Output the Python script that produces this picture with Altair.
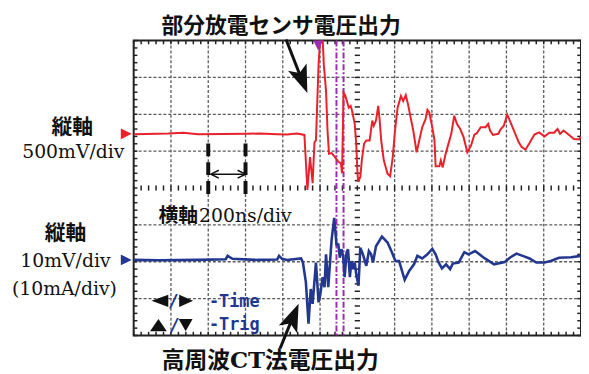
import altair as alt
import pandas as pd
import numpy as np

# ---- data (time in divisions, 200 ns/div; amplitude in divisions) ----
red_t = [0, 0.93, 1.33, 1.73, 3.05, 3.40, 3.85, 4.11, 4.38, 4.58,
         4.66, 4.73, 4.80, 4.85, 4.89, 4.96, 5.02, 5.06, 5.10, 5.16,
         5.20, 5.24, 5.31, 5.40, 5.49, 5.56, 5.59, 5.63, 5.68, 5.73,
         5.77, 5.82, 5.86, 5.93, 5.97, 6.00, 6.02, 6.08, 6.12, 6.18,
         6.24, 6.33, 6.40, 6.44, 6.50, 6.56, 6.60, 6.64, 6.71, 6.81,
         6.88, 6.95, 7.01, 7.08, 7.17, 7.23, 7.30, 7.36, 7.43, 7.50,
         7.59, 7.65, 7.74, 7.83, 7.88, 7.93, 8.01, 8.07, 8.10, 8.20,
         8.24, 8.29, 8.36, 8.43, 8.52, 8.60, 8.67, 8.76, 8.85, 8.95,
         9.05, 9.14, 9.20, 9.31, 9.44, 9.51, 9.56, 9.64, 9.78, 9.85,
         9.93, 10.02, 10.09, 10.22, 10.33, 10.41, 10.51, 10.62, 10.75, 10.88,
         11.02, 11.15, 11.28, 11.37, 11.44, 11.53, 11.64, 11.81, 11.95, 12.0]
red_v = [1.46, 1.48, 1.50, 1.46, 1.47, 1.48, 1.46, 1.45, 1.48, 1.44,
         -0.05, 0.84, 0.13, 1.24, 1.29, 3.36, 4.3, 4.3, 3.36, 2.63,
         1.56, 0.93, 0.95, 0.84, 0.71, 0.67, 0.40, 2.59, 2.50, 2.32,
         2.18, 2.23, 2.09, 1.74, 1.20, 0.48, 0.17, 0.30, 0.75, 1.20,
         1.29, 1.29, 1.83, 1.69, 1.83, 2.23, 1.83, 1.29, 0.75, 0.39,
         0.32, 0.84, 1.56, 2.18, 2.50, 2.36, 2.52, 2.27, 1.91, 1.56,
         0.97, 1.24, 1.65, 1.87, 2.12, 2.05, 1.65, 1.29, 0.59, 0.59,
         0.75, 0.56, 0.89, 1.15, 1.47, 1.96, 1.74, 1.60, 1.38, 0.97,
         1.15, 1.45, 1.48, 1.65, 1.65, 1.74, 1.56, 1.44, 1.47, 1.60,
         1.69, 1.99, 1.83, 1.51, 1.24, 1.11, 1.04, 1.22, 1.45, 1.51,
         1.40, 1.50, 1.50, 1.60, 1.47, 1.56, 1.47, 1.33, 1.32, 1.40]

blue_t = [0, 0.66, 1.73, 2.47, 2.52, 2.65, 3.32, 3.85, 3.90, 3.98,
          4.11, 4.49, 4.54, 4.62, 4.69, 4.75, 4.80, 4.89, 4.96, 5.00,
          5.07, 5.12, 5.16, 5.22, 5.31, 5.38, 5.44, 5.49, 5.53, 5.57,
          5.62, 5.66, 5.71, 5.75, 5.80, 5.84, 5.89, 5.93, 5.97, 6.03,
          6.08, 6.15, 6.24, 6.31, 6.37, 6.42, 6.50, 6.66, 6.81, 6.93,
          7.02, 7.12, 7.27, 7.39, 7.52, 7.61, 7.74, 7.88, 8.01, 8.10,
          8.18, 8.27, 8.38, 8.49, 8.56, 8.72, 8.87, 8.98, 9.16, 9.42,
          9.67, 9.95, 10.09, 10.27, 10.49, 10.62, 10.80, 11.02, 11.19, 11.41,
          11.73, 12.0]
blue_v = [-1.95, -1.96, -1.95, -1.93, -1.84, -1.92, -1.95, -1.94, -1.84, -1.92,
          -1.95, -1.91, -2.02, -2.56, -3.68, -2.74, -3.14, -2.02, -3.10, -2.92,
          -2.42, -2.69, -1.80, -2.69, -1.40, -0.81, -1.53, -1.53, -1.89, -1.66,
          -1.84, -2.42, -1.75, -1.66, -2.42, -1.98, -2.20, -2.02, -2.34, -2.65,
          -1.62, -1.80, -2.11, -1.71, -1.80, -2.02, -1.58, -1.32, -1.48, -1.75,
          -1.98, -1.98, -2.49, -2.25, -2.07, -1.84, -1.91, -1.80, -1.65, -1.80,
          -2.02, -2.18, -2.07, -2.20, -2.05, -2.02, -1.74, -1.80, -1.71, -1.91,
          -2.07, -2.01, -1.89, -1.78, -1.86, -1.91, -2.02, -2.02, -1.98, -1.89,
          -1.88, -1.84]

red_ref = [1.47]
blue_ref = [-1.95]
cursor_t = [5.44, 5.63]
trig_t = [4.95]
scale_bar_t = [2.0, 3.0]

RED = "#e8212b"
BLUE = "#22378f"
PURPLE = "#9a2db0"
SERIF = "'DejaVu Serif', 'Noto Sans CJK JP'"
CJK = "'Noto Sans CJK JP'"
OX, OY = 135, 39  # plot origin on the page

xs = alt.Scale(domain=[0, 12], nice=False, zero=False)
ys = alt.Scale(domain=[-4, 4], nice=False, zero=False)
one = pd.DataFrame({"a": [0]})

# ---- graticule ----
g = []
for k in range(1, 12):
    if k != 6:
        g.append(dict(x=k, x2=k, y=-4, y2=4))
for k in range(-3, 4):
    if k != 0:
        g.append(dict(x=0, x2=12, y=k, y2=k))
grid_df = pd.DataFrame(g)

tk = []
for x in np.round(np.arange(0, 12.001, 0.2), 2):
    tk.append(dict(x=x, x2=x, y=4, y2=3.9))
    tk.append(dict(x=x, x2=x, y=-4, y2=-3.9))
    tk.append(dict(x=x, x2=x, y=-0.07, y2=0.07))
for y in np.round(np.arange(-4, 4.001, 0.2), 2):
    tk.append(dict(x=0, x2=0.1, y=y, y2=y))
    tk.append(dict(x=12, x2=11.9, y=y, y2=y))
    tk.append(dict(x=5.93, x2=6.07, y=y, y2=y))
tick_df = pd.DataFrame(tk)

enc4 = dict(x=alt.X("x:Q", scale=xs, axis=None), x2="x2:Q",
            y=alt.Y("y:Q", scale=ys, axis=None), y2="y2:Q")

grid = alt.Chart(grid_df).mark_rule(color="#5a5a5a", strokeWidth=1.3, strokeDash=[3, 2]).encode(**enc4)
ticks = alt.Chart(tick_df).mark_rule(color="#222", strokeWidth=1.5).encode(**enc4)

cursors = alt.Chart(pd.DataFrame({"t": cursor_t})).mark_rule(
    color=PURPLE, strokeWidth=2, strokeDash=[6, 2, 2, 2]).encode(x=alt.X("t:Q", scale=xs, axis=None))

red_df = pd.DataFrame({"t": red_t, "v": red_v, "i": range(len(red_t))})
blue_df = pd.DataFrame({"t": blue_t, "v": blue_v, "i": range(len(blue_t))})

red_line = alt.Chart(red_df).mark_line(color=RED, strokeWidth=2, clip=True).encode(
    x=alt.X("t:Q", scale=xs, axis=None), y=alt.Y("v:Q", scale=ys, axis=None), order="i:Q")
blue_line = alt.Chart(blue_df).mark_line(color=BLUE, strokeWidth=2.6, clip=True).encode(
    x=alt.X("t:Q", scale=xs, axis=None), y=alt.Y("v:Q", scale=ys, axis=None), order="i:Q")

TRI_R = "M-1,-1L1,0L-1,1Z"
TRI_D = "M-1,-1L1,-1L0,1Z"
HEAD = "M0,-1L0.72,1L0,0.55L-0.72,1Z"

red_mark = alt.Chart(pd.DataFrame({"v": red_ref})).mark_point(
    shape=TRI_R, filled=True, color=RED, size=121, opacity=1).encode(
    x=alt.value(127.5 - OX), y=alt.Y("v:Q", scale=ys, axis=None))
blue_mark = alt.Chart(pd.DataFrame({"v": blue_ref})).mark_point(
    shape=TRI_R, filled=True, color=BLUE, size=121, opacity=1).encode(
    x=alt.value(127.5 - OX), y=alt.Y("v:Q", scale=ys, axis=None))
trig_mark = alt.Chart(pd.DataFrame({"t": trig_t})).mark_point(
    shape=TRI_D, filled=True, color=PURPLE, size=100, opacity=1).encode(
    x=alt.X("t:Q", scale=xs, axis=None), y=alt.value(5))

# time scale bar (one division)
sb = alt.Chart(pd.DataFrame({"t": scale_bar_t, "y": [1.21, 1.21], "y2": [-0.32, -0.32]})).mark_rule(
    color="#111", strokeWidth=4, strokeDash=[13, 6]).encode(
    x=alt.X("t:Q", scale=xs, axis=None), y=alt.Y("y:Q", scale=ys, axis=None), y2="y2:Q")
dbl = alt.Chart(one).mark_rule(color="#111", strokeWidth=1.5).encode(
    x=alt.value(213 - OX), x2=alt.value(248 - OX), y=alt.value(174 - OY))
chev_l = alt.Chart(one).mark_point(shape="M1,-1L-1,0L1,1", filled=False, color="#111", strokeWidth=1.5,
                                   size=64, opacity=1).encode(x=alt.value(217 - OX), y=alt.value(174 - OY))
chev_r = alt.Chart(one).mark_point(shape="M-1,-1L1,0L-1,1", filled=False, color="#111", strokeWidth=1.5,
                                   size=64, opacity=1).encode(x=alt.value(244 - OX), y=alt.value(174 - OY))


def txt(s, px, py, size, font=SERIF, color="#111", align="center", weight="normal"):
    return alt.Chart(one).mark_text(text=s, fontSize=size, font=font, color=color, align=align,
                                    baseline="middle", fontWeight=weight).encode(
        x=alt.value(px - OX), y=alt.value(py - OY))


def sym(shape, px, py, size, color="#111", angle=0):
    return alt.Chart(one).mark_point(shape=shape, filled=True, color=color, size=size, opacity=1,
                                     angle=angle).encode(x=alt.value(px - OX), y=alt.value(py - OY))


def seg(x1, y1, x2, y2, w=3):
    return alt.Chart(one).mark_rule(color="#111", strokeWidth=w).encode(
        x=alt.value(x1 - OX), x2=alt.value(x2 - OX), y=alt.value(y1 - OY), y2=alt.value(y2 - OY))


texts = [
    txt("部分放電センサ電圧出力", 284, 24.5, 22, font=CJK, weight="bold"),
    txt("縦軸", 73, 127, 21, font=CJK, weight="bold"),
    txt("500mV/div", 74, 152, 19),
    txt("縦軸", 66, 235, 21, font=CJK, weight="bold"),
    txt("10mV/div", 66, 262, 19),
    txt("(10mA/div)", 65, 290, 19),
    txt("横軸", 160, 216, 20, font=CJK, align="left", weight="bold"),
    txt("200ns/div", 201, 216, 19, align="left"),
    txt("高周波CT法電圧出力", 273, 363, 23, font=SERIF, weight="bold"),
    txt("/", 175, 303, 18, font="DejaVu Sans Mono", color=BLUE, weight="bold"),
    txt("/", 176, 327, 18, font="DejaVu Sans Mono", color=BLUE, weight="bold"),
    txt("-Time", 211, 303, 17, font="DejaVu Sans Mono", color=BLUE, align="left", weight="bold"),
    txt("-Trig", 211, 326, 17, font="DejaVu Sans Mono", color=BLUE, align="left", weight="bold"),
]
symbols = [
    sym("M0.85,-0.62L-0.85,0L0.85,0.62Z", 161.5, 302, 400),
    sym("M-0.7,-0.62L0.7,0L-0.7,0.62Z", 188, 302, 400),
    sym("M-0.85,0.62L0.85,0.62L0,-0.62Z", 160, 326.5, 400),
    sym("M-0.7,-0.62L0.7,-0.62L0,0.62Z", 187.5, 326.5, 400),
    seg(289, 38, 305, 79),
    sym(HEAD, 305.4, 79, 784, angle=158.7),
    seg(283, 350, 296, 318),
    sym(HEAD, 296.3, 317.9, 784, angle=22.6),
]

chart = alt.layer(grid, ticks, cursors, sb, dbl, chev_l, chev_r, red_line, blue_line,
                  red_mark, blue_mark, trig_mark, *texts, *symbols).properties(
    width=452, height=298,
    autosize=alt.AutoSizeParams(type="none"),
    padding={"left": 127, "top": 31, "right": 0, "bottom": 36},
).configure_view(stroke="#222", strokeWidth=2)

chart.save("out.html", embed_options={"renderer": "svg", "actions": False})
